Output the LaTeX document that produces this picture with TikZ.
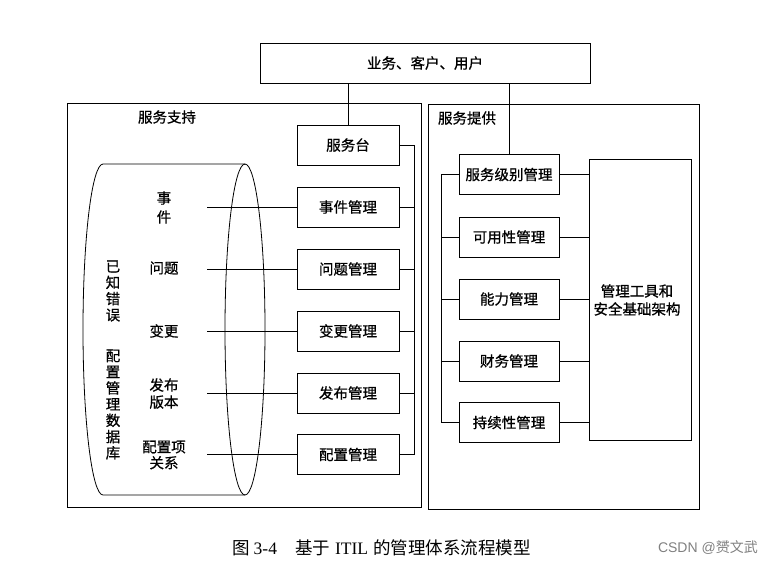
\documentclass[tikz,border=0pt]{standalone}
\usepackage{fontspec}
\newfontfamily\cjk{Noto Sans CJK SC}
\newfontfamily\cjkb[FakeBold=0.7]{Noto Sans CJK SC}
\newfontfamily\latserif{Liberation Serif}
\begin{document}
\begin{tikzpicture}[x=1pt,y=-1pt,
  every node/.style={font=\cjkb\fontsize{14.5}{16}\selectfont, inner sep=0pt},
  box/.style={draw, line width=0.9pt, minimum height=40pt},
  lbox/.style={box, minimum width=102pt},
  rbox/.style={box, minimum width=100pt},
  frame/.style={draw, line width=0.9pt},
  conn/.style={line width=0.8pt},
  lab/.style={align=center},
  vtext/.style={align=center, font=\cjkb\fontsize{14.5}{16.2}\selectfont}]
\useasboundingbox (0,0) rectangle (763,566);

% frames
\draw[frame] (67,103) rectangle (421,507);
\draw[frame] (428,104) rectangle (699,509);
\node[box, minimum width=330pt] (top) at (425,63) {业务、客户、用户};
\node (ssup) at (167,117) {服务支持};
\node (sprv) at (467,118) {服务提供};

% cylinder
\draw[line width=0.8pt] (245,164) -- (103,164)
   arc[start angle=270, end angle=90, x radius=20, y radius=165.5] -- (245,495);
\draw[line width=0.8pt] (245,329.5) ellipse[x radius=20, y radius=165.5];

% cylinder texts
\node[vtext] (yzcw) at (113,291) {已\\知\\错\\误};
\node[vtext] (pzsj) at (113,404.5) {配\\置\\管\\理\\数\\据\\库};
\node[lab, font=\cjkb\fontsize{14.5}{19}\selectfont] (tsj) at (164,207.5) {事\\件};
\node[lab] (twt) at (164,268) {问题};
\node[lab] (tbg) at (164,331) {变更};
\node[lab, font=\cjkb\fontsize{14.5}{17}\selectfont] (tfb) at (164,393.5) {发布\\版本};
\node[lab] (tpz) at (164,455) {配置项\\关系};

% left boxes
\node[lbox] (fwt) at (348,145) {服务台};
\node[lbox] (sjgl) at (348,207) {事件管理};
\node[lbox] (wtgl) at (348,269) {问题管理};
\node[lbox] (bggl) at (348,331) {变更管理};
\node[lbox] (fbgl) at (348,393) {发布管理};
\node[lbox] (pzgl) at (348,454.5) {配置管理};

% label lines
\coordinate (s1) at (207,207);
\coordinate (s2) at (207,269);
\coordinate (s3) at (207,331);
\coordinate (s4) at (207,393);
\coordinate (s5) at (207,454.5);
\draw[conn] (s1) -- (sjgl.west);
\draw[conn] (s2) -- (wtgl.west);
\draw[conn] (s3) -- (bggl.west);
\draw[conn] (s4) -- (fbgl.west);
\draw[conn] (s5) -- (pzgl.west);

% left bus
\coordinate (bl) at (414,145);
\draw[conn] (fwt.east) -- (bl) -- (bl |- pzgl.east) -- (pzgl.east);
\draw[conn] (sjgl.east) -- (bl |- sjgl.east);
\draw[conn] (wtgl.east) -- (bl |- wtgl.east);
\draw[conn] (bggl.east) -- (bl |- bggl.east);
\draw[conn] (fbgl.east) -- (bl |- fbgl.east);

% right boxes
\node[rbox] (fwjb) at (509,174.5) {服务级别管理};
\node[rbox] (kyx) at (509,237) {可用性管理};
\node[rbox] (nlgl) at (509,299) {能力管理};
\node[rbox] (cwgl) at (509,361) {财务管理};
\node[rbox] (cxx) at (509,422.5) {持续性管理};
\node[draw, line width=0.9pt, minimum width=102pt, minimum height=281pt] (gjk) at (640,299.5) {};
\node[lab, font=\cjkb\fontsize{14.5}{18}\selectfont] (gjt) at (637,300) {管理工具和\\安全基础架构};

% right bus
\coordinate (br) at (441,174.5);
\draw[conn] (fwjb.west) -- (br) -- (br |- cxx.west) -- (cxx.west);
\draw[conn] (kyx.west) -- (br |- kyx.west);
\draw[conn] (nlgl.west) -- (br |- nlgl.west);
\draw[conn] (cwgl.west) -- (br |- cwgl.west);
\foreach \b in {fwjb,kyx,nlgl,cwgl,cxx}
  \draw[conn] (\b.east) -- (\b.east -| gjk.west);

% top connections
\draw[conn] (top.south -| fwt.north) -- (fwt.north);
\draw[conn] (top.south -| fwjb.north) -- (fwjb.north);

% caption
\node[anchor=west, font=\cjk\fontsize{17.5}{19}\selectfont] (cap) at (232,548)
  {图\hspace{4pt}{\latserif 3-4}\hspace{18pt}基于\hspace{5pt}{\latserif ITIL}\hspace{5pt}的管理体系流程模型};
\node[anchor=east, text=gray, font=\fontspec{Liberation Sans}\fontsize{14}{16}\selectfont] (wm) at (758,548)
  {CSDN @{\cjk 赟文武}};
\end{tikzpicture}
\end{document}
